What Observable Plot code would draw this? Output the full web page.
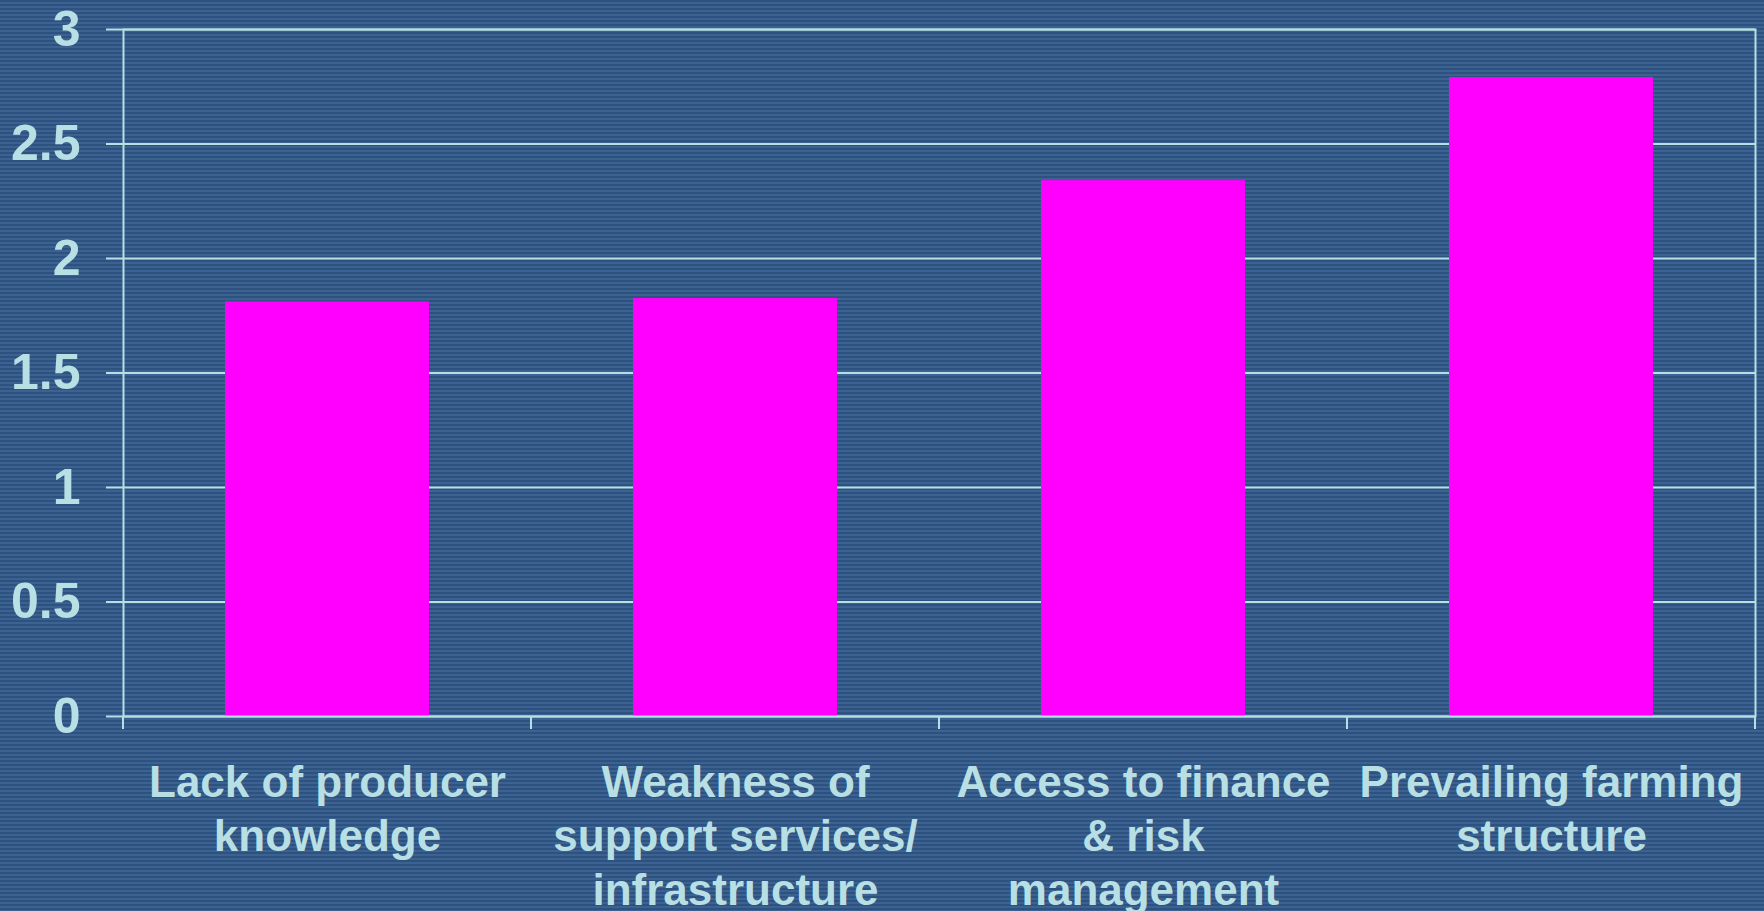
<!DOCTYPE html>
<html>
<head>
<meta charset="utf-8">
<script src="https://cdn.jsdelivr.net/npm/d3@7"></script>
<script src="https://cdn.jsdelivr.net/npm/@observablehq/plot@0.6"></script>
<style>
  html, body { margin: 0; padding: 0; overflow: hidden; }
  body {
    width: 1764px; height: 911px;
    background: repeating-linear-gradient(to bottom, #2d5280 0px, #2d5280 2px, #3b6291 2px, #3b6291 4px);
  }
  #chart svg { display: block; }
</style>
</head>
<body>
<div id="chart"></div>
<script>
// ---- data ----
const categories = [
  "Lack of producer\nknowledge",
  "Weakness of\nsupport services/\ninfrastructure",
  "Access to finance\n& risk\nmanagement",
  "Prevailing farming\nstructure"
];
const values = [1.81, 1.825, 2.34, 2.79];
const yTicks = [0, 0.5, 1, 1.5, 2, 2.5, 3];
const yTickLabels = ["0", "0.5", "1", "1.5", "2", "2.5", "3"];

// ---- style ----
const lineColor = "#b8dfe3";
const barColor = "#ff00ff";
const font = "'Liberation Sans', Arial, Helvetica, sans-serif";

const data = categories.map((c, i) => ({category: c, value: values[i]}));

// ticks at the boundaries between categories, below the zero line
const boundaryTicks = (index, scales) => {
  const x = scales.x, y = scales.y;
  const xs = categories.map(c => x(c));
  const bw = x.bandwidth ? x.bandwidth() : 0;
  const step = x.step ? x.step() : (xs[1] - xs[0]);
  const b = xs.map(v => v - (step - bw) / 2);
  b.push(b[b.length - 1] + step);
  const y0 = y(0);
  const g = d3.create("svg:g")
    .attr("stroke", lineColor)
    .attr("stroke-width", 2);
  g.selectAll("line").data(b).join("line")
    .attr("x1", d => d).attr("x2", d => d)
    .attr("y1", y0).attr("y2", y0 + 13);
  return g.node();
};

const plot = Plot.plot({
  width: 1764,
  height: 911,
  marginLeft: 123,
  marginRight: 9,
  marginTop: 29,
  marginBottom: 195,
  style: {
    background: "transparent",
    color: lineColor,
    fontFamily: font,
    fontWeight: "bold",
    overflow: "visible"
  },
  x: {domain: categories, paddingInner: 0.5, paddingOuter: 0.25, label: null},
  y: {domain: [0, 3], label: null},
  marks: [
    Plot.gridY(yTicks, {stroke: lineColor, strokeOpacity: 1, strokeWidth: 2}),
    Plot.barY(data, {x: "category", y: "value", fill: barColor}),
    Plot.frame({stroke: lineColor, strokeWidth: 2}),
    Plot.axisY(yTicks, {
      tickSize: 17,
      tickPadding: 26,
      strokeWidth: 2,
      fontSize: 50,
      fill: lineColor,
      tickFormat: (d) => yTickLabels[yTicks.indexOf(d)],
      label: null
    }),
    Plot.axisX({
      tickSize: 0,
      tickPadding: 42,
      fontSize: 44,
      lineHeight: 1.227,
      fill: lineColor,
      label: null
    }),
    boundaryTicks
  ]
});

document.getElementById("chart").appendChild(plot);
</script>
</body>
</html>
